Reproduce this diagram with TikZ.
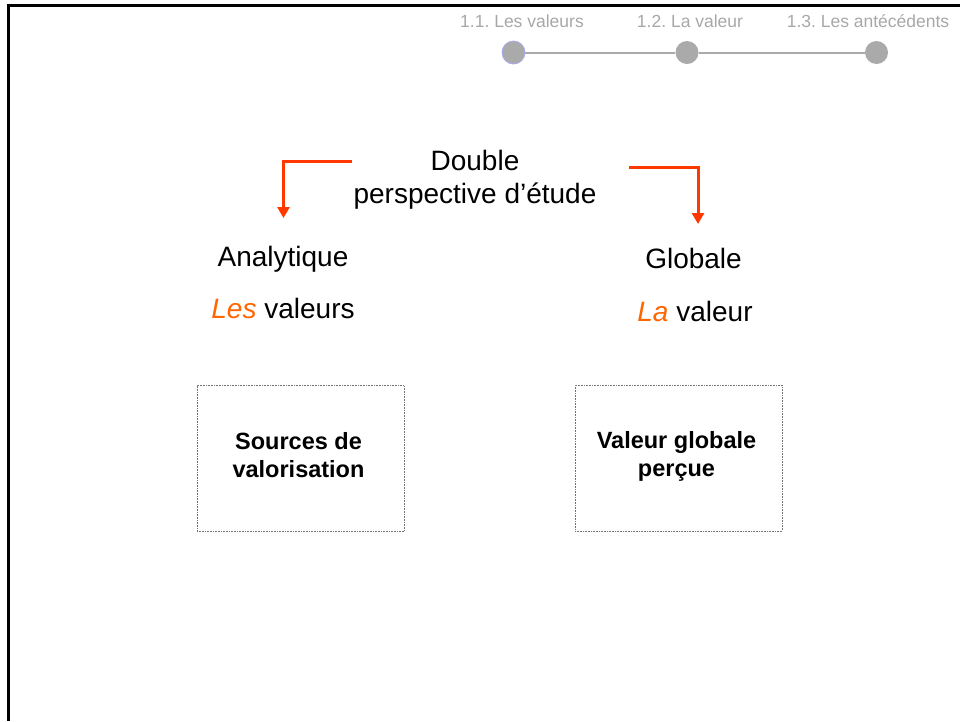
\documentclass[tikz,border=0pt]{standalone}
\usepackage{fontspec}
\setmainfont{Liberation Sans}
\usetikzlibrary{arrows.meta}
\definecolor{navgray}{RGB}{170,170,170}
\definecolor{navtext}{RGB}{168,168,168}
\definecolor{ringblue}{RGB}{170,170,240}
\definecolor{arrowred}{RGB}{255,56,0}
\definecolor{accent}{RGB}{255,102,0}
\frenchspacing
\tikzset{
  navlabel/.style={font=\fontsize{17.5}{20}\selectfont, text=navtext, anchor=base, inner sep=0},
  navdot/.style={circle, fill=navgray, minimum size=23pt, inner sep=0},
  heading/.style={font=\fontsize{28}{33}\selectfont, anchor=base, inner sep=0},
  redarrow/.style={draw=arrowred, line width=3pt, -{Triangle[width=12pt,length=11pt]}},
  valuebox/.style={draw=black!55, densely dotted, line width=0.6pt, minimum width=207pt, minimum height=146pt, inner sep=0},
  boxtext/.style={font=\fontsize{23.5}{27.5}\selectfont\bfseries, align=center, inner sep=0}
}
\begin{document}
\begin{tikzpicture}[x=1pt, y=-1pt]
\useasboundingbox (0,0) rectangle (960,721);
\fill[white] (0,0) rectangle (960,721);

% slide frame (top and left edges)
\draw[line width=3pt] (960,5) -- (8,5) -- (8,721);

% navigation bar
\node[navlabel] (nav1) at (522,27) {1.1. Les valeurs};
\node[navlabel] (nav2) at (690,27) {1.2. La valeur};
\node[navlabel] (nav3) at (868,27) {1.3. Les antécédents};
\node[navdot] (d1) at (513.5,52.5) {};
\node[navdot] (d2) at (687,52.5) {};
\node[navdot] (d3) at (876.5,52.5) {};
\draw[navgray, line width=2pt] (d1) -- (d2) -- (d3);
\draw[ringblue, line width=0.8pt] (d1) circle (11.5pt);

% heading
\node[heading] (t1) at (475,170) {Double};
\node[heading] (t2) at (475,203) {perspective d’étude};

% the two perspectives
\node[heading] (ana) at (283,266) {Analytique};
\node[heading] (glo) at (693.5,268) {Globale};
\node[heading] (les) at (283,318) {\textcolor{accent}{\itshape Les} valeurs};
\node[heading] (la) at (695,321) {\textcolor{accent}{\itshape La} valeur};

% red arrows
\coordinate (ls) at (352,161.5);
\coordinate (le) at (283.5,218);
\coordinate (rs) at (629,167.5);
\coordinate (re) at (698,224);
\draw[redarrow] (ls) -| (le);
\draw[redarrow] (rs) -| (re);

% boxes
\node[valuebox] (src) at (300.5,458.5) {};
\node[valuebox] (vgp) at (678.5,458) {};
\node[boxtext] (srct) at (298.5,455) {Sources de\\valorisation};
\node[boxtext] (vgpt) at (676.5,456.5) {Valeur globale\\perçue};
\end{tikzpicture}
\end{document}
